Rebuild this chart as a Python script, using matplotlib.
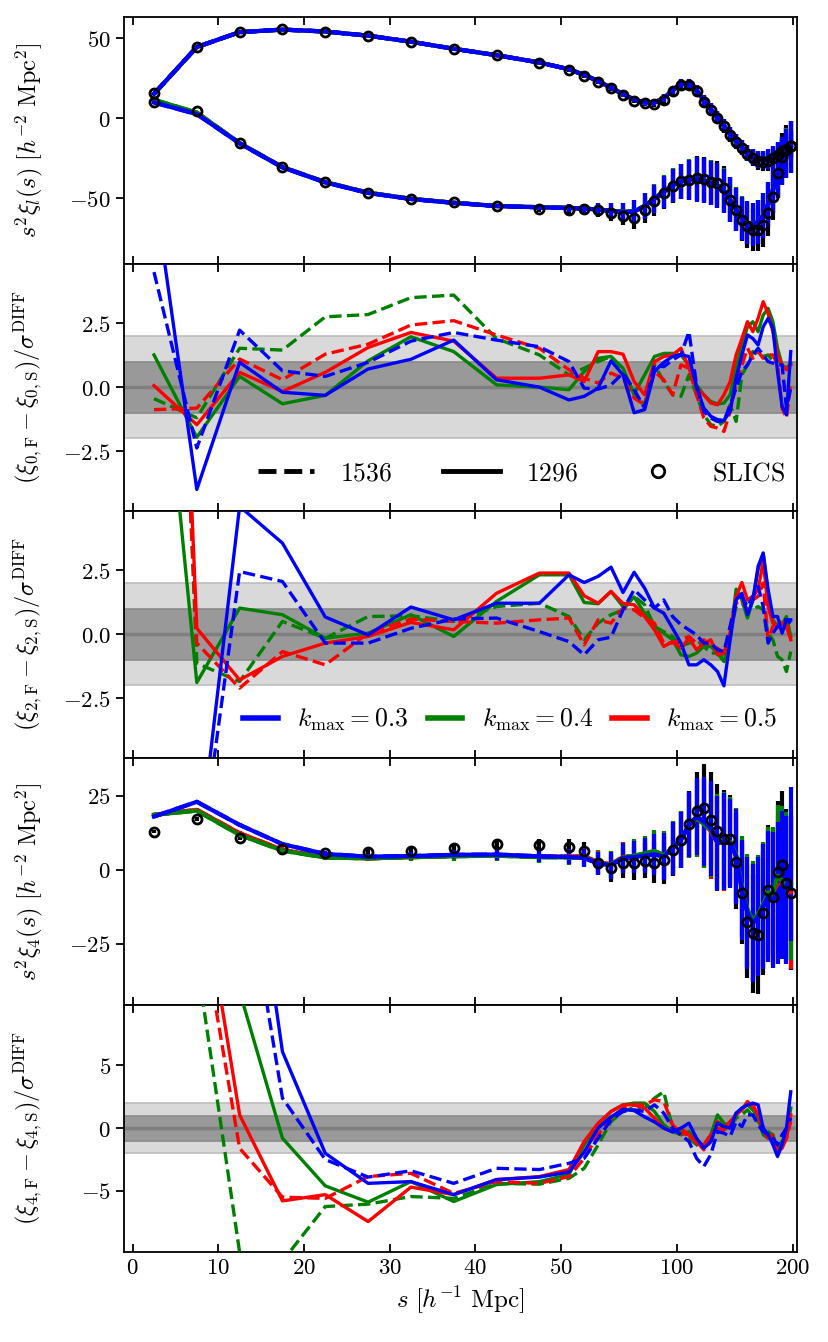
import numpy as np
import matplotlib.pyplot as plt
from matplotlib.lines import Line2D

plt.rcParams['mathtext.fontset'] = 'cm'
plt.rcParams['font.family'] = 'serif'
plt.rcParams['font.serif'] = ['DejaVu Serif']

# bin centres in h^-1 Mpc
s_bins = [2.5, 7.5, 12.5, 17.5, 22.5, 27.5, 32.5, 37.5, 42.5, 47.5,
          52.5, 57.5, 62.5, 67.5, 72.5, 77.5, 82.5, 87.5, 92.5, 97.5,
          102.5, 107.5, 112.5, 117.5, 122.5, 127.5, 132.5, 137.5, 142.5, 147.5,
          152.5, 157.5, 162.5, 167.5, 172.5, 177.5, 182.5, 187.5, 192.5, 197.5]

# SLICS multipoles (s^2 xi)
xi0_slics = [15.6, 44.8, 53.75, 55.6, 54.2, 51.5, 47.5, 43.1, 39.2, 34.4,
             30.2, 26.5, 22.9, 18.75, 14.6, 11.0, 9.4, 9.0, 11.5, 16.7,
             20.8, 20.8, 16.7, 10.4, 5.2, 0.0, -5.2, -10.4, -14.6, -18.75,
             -22.3, -25.0, -27.1, -27.5, -27.1, -25.0, -22.9, -20.8, -19.4, -17.7]
xi2_slics = [9.8, 4.2, -15.6, -30.6, -40.0, -46.5, -50.4, -52.7, -55.2, -56.9,
             -57.3, -56.9, -57.7, -59.4, -61.5, -62.5, -57.7, -52.0, -46.9, -42.3,
             -39.6, -38.5, -37.5, -38.1, -40.2, -40.6, -43.75, -51.0, -57.3, -63.5,
             -67.7, -69.8, -69.8, -66.7, -59.4, -49.0, -34.4, -24.0, -19.8, -17.7]
xi4_slics = [12.95, 17.1, 10.7, 7.0, 5.6, 6.0, 6.5, 7.4, 8.8, 8.4,
             7.9, 6.4, 2.5, 0.56, 2.25, 2.25, 3.15, 2.5, 3.4, 6.8,
             10.1, 15.5, 19.9, 20.8, 16.9, 13.0, 10.4, 10.4, 2.8, -7.9,
             -17.5, -21.4, -22.0, -14.6, -6.8, -9.0, -0.6, 1.7, -4.5, -7.9]

# model multipoles
xi0_model = [15.2, 44.5, 53.8, 55.4, 54.2, 51.6, 47.8, 43.4, 39.4, 34.8,
             30.6, 27.0, 23.2, 19.0, 15.0, 11.6, 9.8, 9.8, 12.5, 17.5,
             21.5, 21.8, 17.5, 11.0, 5.6, 0.5, -4.8, -10.0, -14.2, -18.2,
             -21.8, -24.5, -26.0, -26.2, -25.6, -24.0, -22.0, -20.0, -18.2, -16.0]
xi2_model_k03 = [9.8, 2.5, -15.8, -30.8, -40.2, -46.8, -50.6, -53.0, -55.0, -55.8,
                 -56.2, -56.6, -57.2, -58.0, -58.8, -58.5, -55.0, -50.5, -46.0, -42.0,
                 -39.6, -38.5, -38.2, -39.0, -40.5, -42.0, -45.5, -51.0, -57.0, -62.5,
                 -65.5, -66.5, -65.0, -61.0, -54.0, -45.0, -35.0, -27.0, -22.0, -18.0]
xi2_model_k04 = [11.5, 3.5, -15.6, -30.6, -40.0, -46.6, -50.4, -52.9, -54.9, -55.7,
                 -56.1, -56.5, -57.1, -57.9, -58.6, -58.3, -54.8, -50.3, -45.8, -41.8,
                 -39.4, -38.3, -38.0, -38.8, -40.3, -41.8, -45.3, -50.8, -56.8, -62.3,
                 -65.3, -66.3, -64.8, -60.8, -53.8, -44.8, -34.8, -26.8, -21.8, -17.8]
xi2_model_k05 = [11.0, 3.4, -15.6, -30.6, -40.0, -46.6, -50.5, -52.9, -54.9, -55.7,
                 -56.1, -56.5, -57.1, -57.9, -58.7, -58.4, -54.9, -50.4, -45.9, -41.9,
                 -39.5, -38.4, -38.1, -38.9, -40.4, -41.9, -45.4, -50.9, -56.9, -62.4,
                 -65.4, -66.4, -64.9, -60.9, -53.9, -44.9, -34.9, -26.9, -21.9, -17.9]
xi4_model_k03 = [18.0, 23.0, 15.2, 8.7, 5.4, 4.5, 4.7, 5.1, 5.2, 4.6,
                 4.4, 4.0, 2.2, 1.6, 4.0, 4.3, 4.8, 5.2, 4.5, 7.3,
                 10.1, 15.2, 18.0, 16.3, 14.1, 9.0, 9.6, 9.0, 4.5, -6.8,
                 -14.6, -18.0, -15.8, -12.4, -9.0, -10.1, -7.9, -5.1, -6.8, 2.0]
xi4_model_k04 = [18.6, 20.0, 11.8, 6.5, 4.2, 3.9, 4.3, 4.6, 4.8, 4.3,
                 4.2, 4.2, 2.4, 1.8, 4.2, 4.8, 5.6, 6.4, 5.0, 7.5,
                 10.5, 15.0, 17.5, 15.5, 13.5, 9.5, 9.8, 9.5, 5.0, -5.5,
                 -13.5, -17.0, -15.0, -11.5, -7.5, -8.5, -2.0, -3.5, -5.5, -4.5]
xi4_model_k05 = [18.6, 20.3, 12.4, 6.8, 4.3, 3.9, 4.3, 4.7, 4.9, 4.5,
                 4.5, 4.6, 2.6, 1.9, 4.4, 4.6, 5.3, 6.0, 4.7, 7.4,
                 10.3, 15.0, 17.2, 15.8, 13.0, 9.2, 9.4, 9.2, 4.8, -6.0,
                 -14.0, -17.5, -15.5, -12.0, -8.5, -9.5, -5.5, -4.5, -6.0, -7.5]

# 1-sigma errors (s^2 xi)
sig0 = [0.3, 0.4, 0.5, 0.5, 0.6, 0.7, 0.8, 0.9, 1.0, 1.1,
        1.2, 1.3, 1.4, 1.5, 1.6, 1.8, 2.0, 2.2, 2.4, 2.6,
        2.8, 3.0, 3.2, 3.4, 3.6, 3.8, 4.0, 4.2, 4.4, 4.6,
        4.8, 5.0, 5.3, 5.6, 6.0, 6.4, 6.8, 7.2, 7.6, 8.0]
sig2 = [0.4, 0.5, 0.6, 0.7, 0.8, 0.9, 1.0, 1.1, 1.3, 1.5,
        2.5, 3.0, 4.0, 5.0, 5.5, 7.0, 8.0, 9.0, 10.0, 10.5,
        11.0, 12.5, 14.0, 14.0, 14.0, 14.0, 14.0, 14.0, 13.5, 13.5,
        13.5, 13.5, 13.5, 14.0, 14.0, 14.5, 15.0, 15.0, 15.5, 16.0]
sig4 = [0.5, 0.6, 0.7, 0.8, 0.9, 1.0, 1.2, 1.5, 1.8, 2.0,
        2.5, 3.0, 4.0, 4.5, 5.0, 5.5, 6.0, 7.0, 8.0, 9.0,
        9.5, 11.0, 13.0, 15.0, 16.0, 16.0, 16.5, 15.0, 16.0, 17.0,
        19.0, 20.0, 20.0, 21.0, 22.0, 23.0, 24.0, 25.0, 25.0, 26.0]

# normalised differences, monopole
d0_1296_k03 = [7.8, -4.0, 0.97, -0.2, -0.32, 0.71, 1.09, 1.84, 0.29, 0.0,
               -0.5, -0.36, -0.04, 1.03, 0.48, -1.0, -0.88, 0.61, 0.97, 1.2,
               1.26, 1.2, 0.0, -0.82, -1.14, -1.27, -1.3, -0.95, 0.35, 1.26,
               2.04, 1.9, 1.65, 2.36, 2.69, 2.3, 0.61, -0.75, -1.08, 1.39]
d0_1536_k03 = [4.5, -2.38, 2.23, 0.64, 0.42, 0.97, 1.8, 2.14, 1.84, 1.58,
               1.0, -0.04, -0.08, 0.09, 0.55, -0.1, -0.82, 0.87, 0.8, 1.06,
               1.26, 2.17, 0.09, -0.95, -1.21, -1.34, -1.34, -0.69, -0.04, 0.61,
               0.87, 1.26, 1.52, 1.26, 1.0, 0.94, 0.87, 0.87, -0.82, -0.04]
d0_1296_k04 = [1.26, -1.96, 0.42, -0.65, -0.32, 1.03, 1.97, 1.39, 0.09, 0.0,
               -0.1, 0.61, 1.13, 1.2, 0.74, -0.27, 0.48, 1.2, 1.32, 1.32,
               1.26, 0.87, 0.09, -0.3, -0.56, -0.66, -0.62, -0.3, 0.74, 1.65,
               2.36, 2.56, 2.17, 2.82, 3.08, 2.56, 1.52, 0.87, 0.74, 0.94]
d0_1536_k04 = [-0.45, -1.2, 1.52, 1.45, 2.75, 2.84, 3.5, 3.6, 1.9, 1.26,
               0.48, 0.74, 1.0, 1.2, 0.68, -0.3, -0.69, 0.87, 0.22, -0.3,
               -0.36, 0.48, -0.3, -1.08, -1.47, -1.53, -1.34, -0.69, -1.34, 0.48,
               0.87, 1.39, 1.26, 1.2, 1.26, 1.0, 1.13, 0.87, 0.87, 0.87]
d0_1296_k05 = [0.06, -1.47, 0.58, -0.17, 0.58, 1.55, 2.14, 1.8, 0.35, 0.35,
               0.48, 0.22, 1.39, 1.39, 1.29, 0.22, -0.3, 1.0, 1.2, 1.26,
               1.52, 0.74, -0.04, -0.3, -0.62, -0.69, -0.3, 0.22, 1.26, 1.9,
               2.56, 2.17, 2.69, 3.34, 2.88, 2.17, 1.26, 0.87, 0.68, 0.87]
d0_1536_k05 = [-0.88, -0.82, 1.1, 0.29, 1.29, 1.68, 2.43, 2.6, 2.04, 1.52,
               0.68, 0.35, 0.16, 0.55, 0.35, -0.43, -0.69, 0.61, 0.29, -0.3,
               0.87, 0.74, -0.3, -1.21, -1.53, -1.6, -1.73, -0.95, 0.09, 0.87,
               1.52, 1.13, 1.39, 1.13, 1.26, 1.26, 0.87, -0.82, -1.21, 0.16]

# normalised differences, quadrupole
d2_1296_k03 = [-15.0, -9.2, 5.0, 3.56, 0.67, -0.03, 1.06, 0.56, 1.21, 1.21,
               2.32, 2.02, 2.26, 2.62, 1.63, 2.42, 1.8, 1.02, 0.82, 0.23,
               -0.35, -1.2, -1.2, -1.0, -1.2, -1.46, -2.02, -0.22, 1.34, 1.6,
               0.76, 1.34, 2.65, 3.17, 1.74, 0.69, 0.69, 0.04, 0.56, 0.56]
d2_1536_k03 = [-15.0, -9.8, 2.45, 2.06, -0.35, -0.35, 0.23, 0.59, 0.63, 0.1,
               -0.29, -0.81, -0.22, -0.12, 0.95, 1.74, 1.34, 1.02, 1.34, 0.69,
               0.37, 0.17, -0.03, -0.35, -0.35, -0.61, -0.68, 0.3, 1.34, 1.48,
               1.08, 1.48, 1.87, 1.08, -0.35, 0.04, 0.3, 0.56, 0.56, 0.43]
d2_1296_k04 = [15.0, -1.89, 1.02, 0.76, -0.16, 0.04, 0.76, -0.09, 1.28, 2.32,
               2.32, 1.24, 1.19, 1.67, 1.08, 1.45, 0.82, 0.3, 0.04, -0.22,
               -0.81, -0.87, -0.74, -0.48, -0.48, -0.74, -1.07, -0.22, 1.76, 1.34,
               0.63, 1.34, 2.52, 3.17, 1.6, 0.56, 0.3, 0.37, 0.69, -0.09]
d2_1536_k04 = [40.0, -1.14, -1.85, 0.5, -0.16, 0.69, 0.72, 0.5, 1.08, 1.21,
               0.69, -0.22, 0.43, 0.76, 0.95, 1.48, 1.15, 0.3, 0.1, -0.09,
               -0.48, -0.35, -0.22, -0.48, -0.74, -0.74, -0.87, 0.04, 1.08, 1.21,
               0.95, 0.95, 1.08, 0.95, 0.04, -0.22, -0.87, -1.0, -1.46, -0.68]
d2_1296_k05 = [40.0, 0.23, -1.79, -0.87, -0.35, -0.09, 0.46, 0.17, 1.6, 2.39,
               2.39, 1.5, 1.21, 1.67, 1.2, 1.15, 0.69, 0.17, -0.48, -0.29,
               -0.55, -0.16, -0.61, -0.35, -0.22, -0.81, -0.74, 0.04, 1.48, 2.02,
               1.34, 1.48, 1.74, 2.85, 1.08, 0.43, 0.3, 0.17, 0.3, -0.22]
d2_1536_k05 = [35.0, -0.35, -2.11, -0.68, -1.2, 0.04, 0.59, 0.5, 0.43, 0.56,
               0.63, -0.42, 0.56, 0.43, 1.02, 0.95, 0.63, 0.43, -0.35, -0.35,
               -0.22, -0.09, -0.35, -0.22, -0.48, -0.55, -0.74, 0.3, 1.21, 1.34,
               0.95, 1.34, 1.48, 2.0, -0.22, 0.3, 0.56, 0.43, 0.3, 0.3]

# normalised differences, hexadecapole
d4_1296_k03 = [60.0, 45.0, 30.0, 6.1, -2.0, -4.4, -4.26, -5.3, -4.1, -3.9,
               -3.5, -1.9, 0.0, 0.9, 1.5, 1.4, 0.9, 0.5, 0.0, -0.3,
               0.0, 0.4, -0.8, -1.6, -1.06, 0.4, 0.13, 0.0, 1.2, 1.6,
               1.86, 2.0, 1.86, 0.0, -0.5, -1.3, -2.26, -1.3, 0.0, 2.9]
d4_1536_k03 = [50.0, 38.0, 23.0, 2.4, -2.5, -3.9, -3.4, -4.4, -3.2, -3.3,
               -2.8, -2.4, -0.8, 0.66, 1.33, 1.46, 1.33, 1.86, 1.2, 0.0,
               -0.53, -1.06, -2.4, -3.06, -2.1, -0.27, -0.4, -0.66, 0.53, 0.13,
               1.06, 1.06, 0.27, -0.27, -0.53, -0.8, -1.33, -0.53, 0.0, 0.8]
d4_1296_k04 = [40.0, 25.0, 10.9, -0.8, -4.6, -5.9, -4.26, -5.85, -4.5, -4.26,
               -3.7, -1.33, 0.27, 1.33, 1.86, 2.0, 2.0, 1.33, 0.27, -0.27,
               -0.53, -0.27, -1.06, -1.33, -0.53, 1.06, 0.4, 0.13, 1.06, 1.6,
               1.86, 1.46, 0.8, -0.53, -0.8, -0.8, -1.86, -1.06, -0.53, 1.6]
d4_1536_k04 = [30.0, 13.4, -9.9, -10.6, -6.25, -6.06, -5.45, -5.6, -4.4, -4.47,
               -4.0, -3.2, -1.33, 0.53, 1.33, 1.65, 1.6, 2.4, 2.9, 0.0,
               -0.27, -0.8, -1.33, -1.6, -1.06, 0.66, -0.13, 0.13, 0.8, 1.06,
               1.46, 0.93, 0.53, 0.13, -0.27, -0.53, -1.6, -1.06, 0.0, 0.8]
d4_1296_k05 = [45.0, 22.0, 1.06, -5.8, -5.3, -7.45, -4.7, -5.3, -4.1, -3.86,
               -3.3, -1.06, 0.4, 1.33, 1.86, 1.86, 1.6, 0.8, 0.0, -0.27,
               0.0, -0.53, -1.2, -1.33, -0.53, 0.0, -0.13, 0.27, 1.2, 1.46,
               2.13, 1.73, 1.06, 0.0, -0.53, -0.8, -1.86, -1.6, -0.8, 1.06]
d4_1536_k05 = [40.0, 18.5, -1.6, -5.5, -5.6, -3.86, -3.6, -5.2, -4.26, -4.4,
               -3.86, -2.4, -0.53, 0.8, 1.6, 1.86, 1.86, 2.26, 2.13, 0.27,
               -0.4, -0.53, -1.06, -1.73, -1.06, 0.53, 0.0, 0.53, 1.06, 1.46,
               2.0, 1.86, 1.06, -0.27, -0.8, -0.53, -1.86, -1.33, -0.8, 0.53]

colores = {'0.3': 'blue', '0.4': 'green', '0.5': 'red'}

# x axis: linear up to 50, logarithmic beyond
C_LOG = 13.55


def fwd(x):
    x = np.asarray(x, dtype=float)
    return np.where(x <= 50, x, 50 + C_LOG * np.log2(np.maximum(x, 50) / 50))


def inv(y):
    y = np.asarray(y, dtype=float)
    return np.where(y <= 50, y, 50 * 2 ** ((np.minimum(y, 200) - 50) / C_LOG))


def bandas(ax):
    ax.axhspan(-2, 2, color='#d9d9d9', lw=0, zorder=0)
    ax.axhspan(-1, 1, color='#999999', lw=0, zorder=0.1)
    for yy in (-2, 2):
        ax.axhline(yy, color='#bdbdbd', lw=1.2, zorder=0.2)
    for yy in (-1, 1):
        ax.axhline(yy, color='#8a8a8a', lw=1.2, zorder=0.2)
    ax.axhline(0, color='#7f7f7f', lw=2.5, zorder=0.3)


def diferencas(ax, series):
    for k in ['0.4', '0.5', '0.3']:
        dashed, solid = series[k]
        ax.plot(s_bins, dashed, color=colores[k], ls='--', lw=2.4, zorder=3)
        ax.plot(s_bins, solid, color=colores[k], ls='-', lw=2.4, zorder=3)


fig, axes = plt.subplots(5, 1, figsize=(8.29, 13.42), dpi=100, sharex=True)
fig.subplots_adjust(left=0.1496, right=0.9614, top=0.9876, bottom=0.0673, hspace=0)

for ax in axes:
    ax.set_xscale('function', functions=(fwd, inv))
    ax.tick_params(axis='x', direction='in', top=True, bottom=True,
                   length=6, width=1.3, labelsize=16.5)
    ax.tick_params(axis='y', direction='out', length=6, width=1.3, labelsize=16.5)
    for sp in ax.spines.values():
        sp.set_linewidth(1.3)
    ax.yaxis.set_label_coords(-0.118, 0.5)

# panel 1: monopole and quadrupole
ax = axes[0]
ax.errorbar(s_bins, xi0_slics, yerr=sig0, fmt='none', ecolor='k', elinewidth=3, capsize=0, zorder=1)
ax.errorbar(s_bins, xi2_slics, yerr=sig2, fmt='none', ecolor='k', elinewidth=3, capsize=0, zorder=1)
xi2_models = {'0.3': xi2_model_k03, '0.4': xi2_model_k04, '0.5': xi2_model_k05}
for k in ['0.5', '0.4', '0.3']:
    c = colores[k]
    ax.errorbar(s_bins, xi0_model, yerr=sig0, fmt='none', ecolor=c, elinewidth=3, capsize=0, zorder=2)
    ax.errorbar(s_bins, xi2_models[k], yerr=sig2, fmt='none', ecolor=c, elinewidth=3, capsize=0, zorder=2)
    for ls in ['-', '--']:
        ax.plot(s_bins, xi0_model, color=c, ls=ls, lw=3, zorder=3)
        ax.plot(s_bins, xi2_models[k], color=c, ls=ls, lw=3, zorder=3)
ax.plot(s_bins, xi0_slics, 'o', mfc='none', mec='k', ms=6.5, mew=2, zorder=4)
ax.plot(s_bins, xi2_slics, 'o', mfc='none', mec='k', ms=6.5, mew=2, zorder=4)
ax.set_ylim(-91, 63.5)
ax.set_yticks([50, 0, -50], ['$50$', '$0$', '$-50$'])
ax.set_ylabel(r'$s^2\xi_l(s)\ [h^{-2}\ \mathrm{Mpc}^2]$', fontsize=17.5)

# panel 2: monopole differences
ax = axes[1]
bandas(ax)
diferencas(ax, {'0.3': (d0_1536_k03, d0_1296_k03),
                '0.4': (d0_1536_k04, d0_1296_k04),
                '0.5': (d0_1536_k05, d0_1296_k05)})
ax.set_ylim(-4.83, 4.83)
ax.set_yticks([2.5, 0, -2.5], ['$2.5$', '$0.0$', '$-2.5$'])
ax.set_ylabel(r'$(\xi_{0,\mathrm{F}}-\xi_{0,\mathrm{S}})/\sigma^{\mathrm{DIFF}}$', fontsize=17.5)
handles = [Line2D([], [], color='k', ls='--', lw=3.5),
           Line2D([], [], color='k', ls='-', lw=3.5),
           Line2D([], [], color='k', ls='', marker='o', mfc='none', mec='k', ms=9, mew=2)]
ax.legend(handles, ['$1536$', '$1296$', r'$\mathrm{SLICS}$'], ncol=3, frameon=False,
          loc='center', bbox_to_anchor=(0.59, 0.153), fontsize=18.5,
          handlelength=2.2, handletextpad=1.0, columnspacing=2.0)

# panel 3: quadrupole differences
ax = axes[2]
bandas(ax)
diferencas(ax, {'0.3': (d2_1536_k03, d2_1296_k03),
                '0.4': (d2_1536_k04, d2_1296_k04),
                '0.5': (d2_1536_k05, d2_1296_k05)})
ax.set_ylim(-4.83, 4.83)
ax.set_yticks([2.5, 0, -2.5], ['$2.5$', '$0.0$', '$-2.5$'])
ax.set_ylabel(r'$(\xi_{2,\mathrm{F}}-\xi_{2,\mathrm{S}})/\sigma^{\mathrm{DIFF}}$', fontsize=17.5)
handles = [Line2D([], [], color=colores[k], lw=4) for k in ['0.3', '0.4', '0.5']]
ax.legend(handles, [r'$k_{\mathrm{max}} = 0.3$', r'$k_{\mathrm{max}} = 0.4$', r'$k_{\mathrm{max}} = 0.5$'],
          ncol=3, frameon=False, loc='center', bbox_to_anchor=(0.574, 0.153), fontsize=18.5,
          handlelength=1.35, handletextpad=0.75, columnspacing=0.75)

# panel 4: hexadecapole
ax = axes[3]
ax.errorbar(s_bins, xi4_slics, yerr=sig4, fmt='none', ecolor='k', elinewidth=3, capsize=0, zorder=1)
xi4_models = {'0.3': xi4_model_k03, '0.4': xi4_model_k04, '0.5': xi4_model_k05}
for k in ['0.5', '0.4', '0.3']:
    c = colores[k]
    ax.errorbar(s_bins, xi4_models[k], yerr=sig4, fmt='none', ecolor=c, elinewidth=3, capsize=0, zorder=2)
    for ls in ['-', '--']:
        ax.plot(s_bins, xi4_models[k], color=c, ls=ls, lw=3, zorder=3)
ax.plot(s_bins, xi4_slics, 'o', mfc='none', mec='k', ms=6.5, mew=2, zorder=4)
ax.set_ylim(-45.5, 37.9)
ax.set_yticks([25, 0, -25], ['$25$', '$0$', '$-25$'])
ax.set_ylabel(r'$s^2\xi_4(s)\ [h^{-2}\ \mathrm{Mpc}^2]$', fontsize=17.5)

# panel 5: hexadecapole differences
ax = axes[4]
bandas(ax)
diferencas(ax, {'0.3': (d4_1536_k03, d4_1296_k03),
                '0.4': (d4_1536_k04, d4_1296_k04),
                '0.5': (d4_1536_k05, d4_1296_k05)})
ax.set_ylim(-9.85, 9.85)
ax.set_yticks([5, 0, -5], ['$5$', '$0$', '$-5$'])
ax.set_ylabel(r'$(\xi_{4,\mathrm{F}}-\xi_{4,\mathrm{S}})/\sigma^{\mathrm{DIFF}}$', fontsize=17.5)

ax.set_xlim(-1, 205)
xt = [0, 10, 20, 30, 40, 50, 100, 200]
ax.set_xticks(xt, ['$%d$' % t for t in xt])
ax.set_xlabel(r'$s\ [h^{-1}\ \mathrm{Mpc}]$', fontsize=18)

fig.savefig('out.png', dpi=100)
